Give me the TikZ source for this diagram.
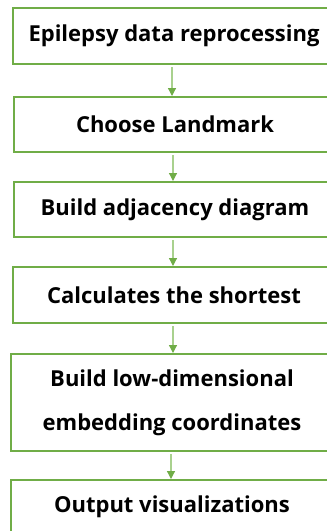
\documentclass[tikz,border=0pt]{standalone}
\usepackage{fontspec}
\setmainfont{Open Sans}
\usetikzlibrary{arrows.meta}
\definecolor{boxgreen}{HTML}{70AD47}
\definecolor{linegreen}{HTML}{A9D18E}
\tikzset{
  stepbox/.style={draw=boxgreen, line width=2pt, fill=white},
  steplabel/.style={font=\bfseries\fontsize{22}{44}\selectfont, text=black, align=center, inner sep=0pt},
  flow/.style={draw=linegreen, line width=1.2pt, -{Triangle[length=8pt,width=8pt,color=boxgreen]}}
}
\begin{document}
\begin{tikzpicture}[x=1pt,y=-1pt]
\useasboundingbox (0,0) rectangle (327,531);
\clip (0,0) rectangle (327,531);
% process boxes (they run past the right and bottom edges)
\draw[stepbox] (13,8) rectangle (337,64);
\draw[stepbox] (14,97) rectangle (337,152);
\draw[stepbox] (14,182) rectangle (337,237);
\draw[stepbox] (13,267) rectangle (337,323);
\draw[stepbox] (11,354) rectangle (337,451);
\draw[stepbox] (11,480) rectangle (337,545);
% labels
\node[steplabel] (s1) at (174,36) {Epilepsy data reprocessing};
\node[steplabel] (s2) at (175,124.5) {Choose Landmark};
\node[steplabel] (s3) at (175,209.5) {Build adjacency diagram};
\node[steplabel] (s4) at (174,295) {Calculates the shortest};
\node[steplabel] (s5) at (172,402.5) {Build low-dimensional\\embedding coordinates};
\node[steplabel] (s6) at (172,507) {Output visualizations};
% connector end points on the box edges
\coordinate (b1) at (172,67);  \coordinate (t2) at (172,96);
\coordinate (b2) at (173,155); \coordinate (t3) at (173,181);
\coordinate (b3) at (173,240); \coordinate (t4) at (173,266);
\coordinate (b4) at (173,326); \coordinate (t5) at (173,353);
\coordinate (b5) at (171,454); \coordinate (t6) at (171,479);
\draw[flow] (b1) -- (t2);
\draw[flow] (b2) -- (t3);
\draw[flow] (b3) -- (t4);
\draw[flow] (b4) -- (t5);
\draw[flow] (b5) -- (t6);
\end{tikzpicture}
\end{document}
